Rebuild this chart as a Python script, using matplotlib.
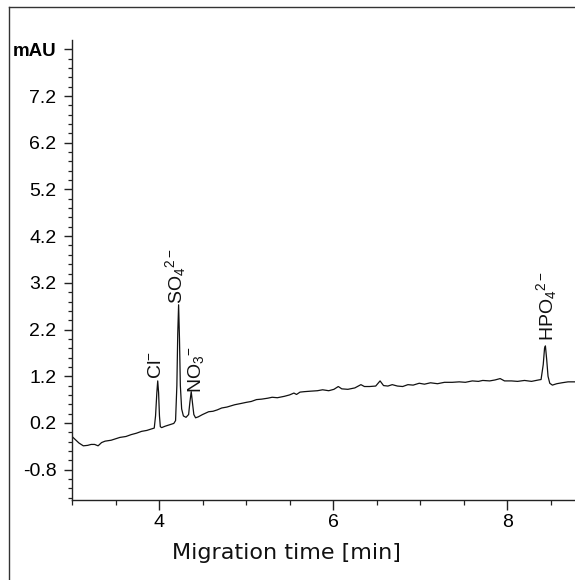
import matplotlib
matplotlib.use("Agg")
import matplotlib.pyplot as plt
from matplotlib.lines import Line2D
from matplotlib.ticker import MultipleLocator, FixedLocator

plt.rcParams['mathtext.fontset'] = 'custom'
plt.rcParams['mathtext.rm'] = 'Liberation Sans'
plt.rcParams['mathtext.it'] = 'Liberation Sans:italic'
plt.rcParams['mathtext.bf'] = 'Liberation Sans:bold'

# Electropherogram trace (migration time [min], absorbance [mAU])
time_min = [3.00, 3.04, 3.08, 3.13, 3.18, 3.22, 3.26, 3.30, 3.34, 3.38, 3.45, 3.50, 3.55,
            3.62, 3.68, 3.74, 3.80, 3.86, 3.91, 3.945, 3.96, 3.975, 3.985, 3.995, 4.005,
            4.015, 4.03, 4.07, 4.12, 4.17, 4.19, 4.205, 4.215, 4.225, 4.235, 4.245, 4.26,
            4.28, 4.31, 4.34, 4.355, 4.37, 4.385, 4.40, 4.42, 4.45, 4.50, 4.57, 4.62, 4.67,
            4.72, 4.78, 4.87, 4.95, 5.00, 5.06, 5.12, 5.18, 5.25, 5.30, 5.36, 5.44, 5.50,
            5.55, 5.58, 5.62, 5.67, 5.74, 5.82, 5.88, 5.95, 6.01, 6.06, 6.10, 6.17, 6.25,
            6.32, 6.36, 6.42, 6.49, 6.54, 6.58, 6.63, 6.68, 6.74, 6.80, 6.86, 6.92, 6.99,
            7.05, 7.12, 7.20, 7.28, 7.37, 7.45, 7.52, 7.60, 7.67, 7.72, 7.80, 7.86, 7.92,
            7.97, 8.05, 8.12, 8.20, 8.28, 8.36, 8.39, 8.415, 8.43, 8.44, 8.455, 8.47, 8.49,
            8.52, 8.57, 8.63, 8.70, 8.78]
absorbance = [-0.09, -0.16, -0.23, -0.29, -0.28, -0.26, -0.26, -0.29, -0.22, -0.19, -0.17,
              -0.14, -0.11, -0.09, -0.05, -0.02, 0.02, 0.04, 0.07, 0.09, 0.35, 0.85, 1.10,
              0.85, 0.35, 0.12, 0.10, 0.13, 0.16, 0.19, 0.25, 1.00, 2.10, 2.73, 2.00, 1.00,
              0.50, 0.35, 0.32, 0.38, 0.65, 0.87, 0.62, 0.38, 0.31, 0.33, 0.38, 0.44, 0.45,
              0.48, 0.52, 0.54, 0.59, 0.62, 0.64, 0.66, 0.70, 0.71, 0.73, 0.75, 0.74, 0.77,
              0.80, 0.84, 0.81, 0.86, 0.87, 0.88, 0.89, 0.91, 0.89, 0.92, 0.98, 0.93, 0.92,
              0.95, 1.02, 0.98, 0.98, 0.99, 1.10, 1.00, 0.99, 1.02, 0.99, 0.98, 1.02, 1.01,
              1.05, 1.03, 1.06, 1.04, 1.07, 1.07, 1.08, 1.07, 1.10, 1.09, 1.11, 1.10, 1.12,
              1.15, 1.10, 1.10, 1.09, 1.11, 1.09, 1.12, 1.13, 1.45, 1.80, 1.85, 1.55, 1.20,
              1.05, 1.01, 1.04, 1.06, 1.08, 1.08]

# Peak annotations
peak_labels = [r'Cl$^{-}$', r'SO$_4$$^{2-}$', r'NO$_3$$^{-}$', r'HPO$_4$$^{2-}$']
peak_label_x = [3.975, 4.19, 4.42, 8.45]
peak_label_y = [1.15, 2.74, 0.85, 1.95]

# Axis ticks
y_major = [-0.8, 0.2, 1.2, 2.2, 3.2, 4.2, 5.2, 6.2, 7.2, 8.2]
y_labels = ['-0.8', '0.2', '1.2', '2.2', '3.2', '4.2', '5.2', '6.2', '7.2', 'mAU']
x_major = [4, 6, 8]
x_labels = ['4', '6', '8']
x_title = 'Migration time [min]'

fig = plt.figure(figsize=(5.75, 5.8), dpi=100, facecolor='white')
ax = fig.add_axes([72 / 575, 1 - 500 / 580, 1 - 72 / 575, (500 - 40) / 580])

ax.plot(time_min, absorbance, color='#111111', lw=0.9)

ax.set_xlim(3.0, 8.78)
ax.set_ylim(-1.45, 8.4)

for s in ['top', 'right']:
    ax.spines[s].set_visible(False)
for s in ['left', 'bottom']:
    ax.spines[s].set_linewidth(1.0)
    ax.spines[s].set_color('#222222')

ax.yaxis.set_major_locator(FixedLocator(y_major))
ax.set_yticklabels(y_labels)
ax.yaxis.set_minor_locator(FixedLocator([round(-1.4 + 0.2 * i, 2) for i in range(49)]))
ax.xaxis.set_major_locator(FixedLocator(x_major))
ax.set_xticklabels(x_labels)
ax.xaxis.set_minor_locator(MultipleLocator(0.5))

ax.tick_params(axis='y', which='major', direction='out', length=5.8, width=1.0,
               color='#222222', labelsize=14, pad=5.5)
ax.tick_params(axis='y', which='minor', direction='out', length=2.9, width=0.9,
               color='#222222')
ax.tick_params(axis='x', which='major', direction='out', length=7, width=1.0,
               color='#222222', labelsize=14, pad=3)
ax.tick_params(axis='x', which='minor', direction='out', length=3.6, width=0.9,
               color='#222222')
for lab in ax.get_yticklabels() + ax.get_xticklabels():
    lab.set_fontfamily('Liberation Sans')
ax.get_yticklabels()[-1].set_fontweight('bold')
ax.get_yticklabels()[-1].set_fontsize(13.5)

for lab, lx, ly in zip(peak_labels, peak_label_x, peak_label_y):
    ax.text(lx, ly, lab, rotation=90, ha='center', va='bottom', fontsize=14,
            family='Liberation Sans', color='#111111')

fig.text(286 / 575, 1 - 553 / 580, x_title, ha='center', va='center',
         fontsize=16, family='DejaVu Sans', color='#111111')

# Outer frame lines (top and left)
fig.add_artist(Line2D([9 / 575, 1.0], [1 - 7 / 580, 1 - 7 / 580],
                      transform=fig.transFigure, color='#333333', lw=1.0))
fig.add_artist(Line2D([9 / 575, 9 / 575], [0.0, 1 - 7 / 580],
                      transform=fig.transFigure, color='#333333', lw=1.0))

fig.savefig('out.png', dpi=100, facecolor='white')
